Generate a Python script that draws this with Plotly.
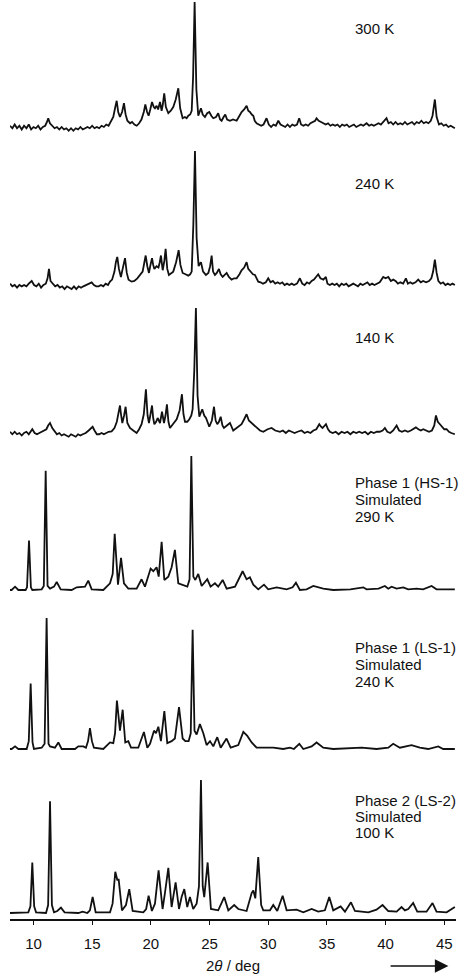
import plotly.graph_objects as go

# ---------------- data: (2theta / deg, relative intensity %) -------------
pat_300K = [(8.0,1),(8.2,-1),(8.4,2),(8.6,-1),(8.8,1),(9.0,-2),(9.2,1),(9.4,-1),(9.6,2),(9.8,-2),(10.0,0),(10.2,-1),(10.4,1),(10.6,-2),(10.8,0),(11.0,1),(11.15,4),(11.26,7),(11.4,3),(11.6,1),(11.8,-1),(12.0,0),(12.2,-2),(12.4,0),(12.6,-2),(12.8,-1),(13.0,-3),(13.2,-1),(13.4,-3),(13.6,-1),(13.8,-2),(14.0,0),(14.2,-2),(14.4,-1),(14.6,0),(14.8,-1),(15.0,1),(15.2,-1),(15.4,0),(15.6,-1),(15.8,1),(16.0,0),(16.2,2),(16.4,1),(16.6,4),(16.8,8),(16.95,15),(17.09,21),(17.22,12),(17.37,8),(17.55,12),(17.71,19),(17.85,10),(18.0,5),(18.23,3),(18.4,4),(18.6,2),(18.8,1),(19.0,3),(19.2,6),(19.4,12),(19.53,18),(19.68,12),(19.81,9),(19.95,14),(20.1,20),(20.25,16),(20.35,15),(20.49,17),(20.62,14),(20.78,20),(20.92,13),(21.02,18),(21.14,27),(21.28,16),(21.49,11),(21.7,13),(21.91,16),(22.12,22),(22.34,31),(22.5,15),(22.71,7),(22.9,8),(23.05,7),(23.19,9),(23.35,10),(23.48,13),(23.6,40),(23.73,100),(23.88,30),(24.04,9),(24.15,12),(24.27,15),(24.42,10),(24.61,8),(24.8,11),(24.98,12),(25.15,9),(25.32,7),(25.55,8),(25.74,11),(25.9,6),(26.03,5),(26.2,8),(26.34,10),(26.5,6),(26.74,5),(27.0,6),(27.31,5),(27.55,9),(27.73,12),(27.95,14),(28.16,17),(28.3,13),(28.44,12),(28.6,10),(28.73,9),(28.85,5),(29.01,3),(29.2,2),(29.4,1),(29.6,2),(29.86,7),(30.05,2),(30.25,0),(30.45,2),(30.65,1),(30.86,5),(31.05,2),(31.25,1),(31.45,0),(31.65,2),(31.85,0),(32.05,2),(32.25,1),(32.45,2),(32.64,7),(32.8,2),(33.0,1),(33.2,2),(33.4,1),(33.6,3),(33.8,4),(34.0,5),(34.12,7),(34.3,5),(34.5,4),(34.7,3),(34.9,2),(35.1,3),(35.3,1),(35.5,2),(35.7,1),(35.9,2),(36.1,0),(36.3,2),(36.5,1),(36.7,2),(36.9,0),(37.1,1),(37.3,2),(37.5,0),(37.7,1),(37.9,2),(38.1,1),(38.38,3),(38.6,1),(38.8,2),(39.0,1),(39.2,2),(39.4,3),(39.6,2),(39.8,4),(40.08,7),(40.25,3),(40.45,4),(40.65,2),(40.85,4),(41.05,2),(41.25,3),(41.45,2),(41.65,4),(41.85,2),(42.05,3),(42.25,4),(42.45,2),(42.65,4),(42.85,3),(43.05,5),(43.25,3),(43.45,4),(43.65,3),(43.85,5),(44.0,9),(44.2,22),(44.35,8),(44.55,2),(44.75,3),(44.95,1),(45.15,2),(45.35,0),(45.55,1),(45.75,0),(45.9,-1)]

pat_240K = [(8.0,1),(8.2,-1),(8.4,0),(8.6,-2),(8.8,0),(9.0,-1),(9.2,0),(9.4,-1),(9.6,1),(9.85,3),(10.05,0),(10.25,-1),(10.45,1),(10.65,-2),(10.85,0),(11.05,1),(11.2,5),(11.32,12),(11.45,3),(11.65,1),(11.85,-1),(12.05,0),(12.25,-2),(12.45,-1),(12.65,-3),(12.85,-1),(13.05,-2),(13.25,-3),(13.45,-1),(13.65,-3),(13.85,-1),(14.05,-2),(14.25,-1),(14.45,0),(14.7,1),(14.96,2),(15.15,0),(15.35,-1),(15.55,-1),(15.75,0),(15.95,-1),(16.15,1),(16.35,0),(16.52,2.5),(16.7,4),(16.9,10),(17.02,17),(17.14,21),(17.28,12),(17.45,6),(17.62,13),(17.8,20),(17.95,9),(18.1,4),(18.36,2.5),(18.6,3),(18.85,5),(19.07,7.5),(19.3,10),(19.45,17),(19.56,22),(19.7,14),(19.84,9),(19.97,15),(20.1,20),(20.2,15),(20.3,12),(20.49,14),(20.65,13),(20.76,17),(20.86,22),(21.01,11),(21.15,18),(21.26,27),(21.4,12),(21.54,7.5),(21.72,9),(21.91,10),(22.15,17),(22.37,26),(22.52,15),(22.71,9),(22.95,8),(23.19,7),(23.35,8),(23.48,10),(23.62,45),(23.76,100),(23.9,35),(24.07,14),(24.17,16),(24.27,17),(24.45,10),(24.69,7.5),(24.9,9),(25.05,14),(25.18,22),(25.3,10),(25.46,7.5),(25.62,9),(25.8,12),(25.95,8),(26.12,6),(26.3,8),(26.46,9),(26.65,6),(26.88,4),(27.1,5),(27.31,5),(27.55,8),(27.73,11),(27.95,13),(28.16,17),(28.3,12),(28.5,10),(28.7,8),(28.87,7.5),(29.0,5),(29.15,2.5),(29.35,2),(29.55,1),(29.8,2),(30.0,5),(30.2,2),(30.4,3),(30.6,1),(30.8,2),(31.0,1),(31.2,2),(31.4,0),(31.6,1),(31.8,0),(32.0,1),(32.2,0),(32.45,1),(32.7,5),(32.9,1),(33.1,0),(33.3,2),(33.5,1),(33.7,3),(33.9,4),(34.1,6),(34.26,8),(34.45,5),(34.7,4),(34.91,6),(35.05,1),(35.25,0),(35.45,1),(35.65,0),(35.85,1),(36.05,-1),(36.25,1),(36.45,0),(36.65,1),(36.85,-1),(37.05,0),(37.25,1),(37.45,0),(37.65,-1),(37.85,1),(38.05,0),(38.25,1),(38.45,2),(38.65,0),(38.85,1),(39.05,0),(39.25,1),(39.5,2),(39.8,6),(40.0,5),(40.23,6),(40.45,3),(40.65,4),(40.85,3),(41.05,1),(41.25,2),(41.5,1),(41.73,5),(41.9,1),(42.1,2),(42.3,1),(42.55,2),(42.78,4),(43.0,2),(43.2,3),(43.45,2),(43.7,3),(43.9,5),(44.05,10),(44.2,19),(44.35,9),(44.5,3),(44.7,1),(44.9,2),(45.1,0),(45.3,1),(45.5,0),(45.7,1),(45.9,0)]

pat_140K = [(8.0,1),(8.2,-1),(8.4,1),(8.6,-1),(8.8,0),(9.0,-2),(9.2,0),(9.4,1),(9.6,-1),(9.9,3),(10.1,0),(10.3,-1),(10.5,0),(10.7,1),(10.9,2),(11.1,3),(11.25,6),(11.41,8),(11.6,4),(11.8,1),(12.0,-1),(12.2,0),(12.4,-2),(12.6,-1),(12.8,-2),(13.0,-3),(13.2,-1),(13.4,-2),(13.6,-3),(13.8,-1),(14.0,-2),(14.2,-1),(14.45,0),(14.7,2),(14.9,4),(15.04,5),(15.2,2),(15.4,-1),(15.6,-1),(15.8,0),(16.0,-1),(16.2,0),(16.4,1),(16.66,1.3),(16.9,4),(17.1,9),(17.25,16),(17.37,22),(17.47,14),(17.57,8),(17.72,14),(17.85,21),(18.0,8),(18.22,4),(18.5,2),(18.79,0),(19.0,3),(19.21,7),(19.4,15),(19.58,35),(19.72,14),(19.84,8),(19.97,15),(20.1,22),(20.2,12),(20.3,7),(20.45,9),(20.58,12),(20.78,8),(20.95,17),(21.12,8),(21.25,14),(21.37,23),(21.5,9),(21.63,4),(21.9,7),(22.2,11),(22.45,18),(22.65,31),(22.78,15),(22.91,9),(23.1,9),(23.28,11),(23.45,14),(23.56,19),(23.7,50),(23.84,100),(23.98,30),(24.13,13),(24.25,16),(24.38,19),(24.55,14),(24.7,12),(24.98,5),(25.2,10),(25.38,21),(25.52,10),(25.66,7),(25.8,9),(25.95,13),(26.1,6),(26.23,4),(26.5,6),(26.74,8),(27.02,2),(27.35,4),(27.73,7),(27.95,11),(28.16,15),(28.35,10),(28.59,8),(28.8,6),(29.01,4),(29.3,2),(29.58,1),(29.95,3),(30.29,4),(30.6,2),(31.0,1),(31.25,2),(31.5,0),(31.75,2),(32.0,1),(32.25,0),(32.5,1),(32.84,2),(33.1,0),(33.35,1),(33.6,0),(33.85,2),(34.1,3),(34.35,7),(34.5,5),(34.63,4),(34.92,7),(35.1,3),(35.26,1),(35.5,0),(35.75,1),(36.0,-1),(36.25,1),(36.5,0),(36.75,1),(37.0,-1),(37.25,1),(37.5,0),(37.75,1),(38.0,0),(38.25,1),(38.5,-1),(38.75,1),(39.0,0),(39.25,1),(39.5,1),(39.75,2),(39.94,4),(40.15,1),(40.4,0),(40.65,2),(40.94,6),(41.15,2),(41.4,1),(41.65,2),(41.9,1),(42.15,2),(42.35,3),(42.58,4.5),(42.8,3),(43.0,2),(43.21,3),(43.45,2),(43.7,1),(43.95,2),(44.15,6),(44.29,14),(44.45,9),(44.63,7),(44.85,5),(45.0,3),(45.2,3),(45.4,1),(45.6,0),(45.9,-1)]

pat_HS1 = [(8.0,0),(8.14,0),(8.43,2.5),(8.71,0),(9.33,0),(9.45,2),(9.62,37),(9.78,2),(9.9,0),(10.7,0.5),(10.88,3),(11.04,89),(11.2,3),(11.41,1),(11.75,2.5),(11.98,6),(12.32,0.5),(12.83,0),(13.25,0),(13.68,2),(14.1,2),(14.39,2.5),(14.67,7),(14.96,0.5),(15.95,0),(16.52,5),(16.75,12),(16.92,42),(17.2,4),(17.46,24),(17.71,5),(18.08,1),(18.79,1),(19.21,8),(19.5,2.5),(19.98,16),(20.21,14),(20.49,17),(20.67,10),(20.92,36),(21.15,7.5),(21.49,10),(21.77,17),(22.05,30),(22.34,5),(22.71,4),(23.11,2.5),(23.3,8),(23.45,100),(23.62,10),(23.79,7.5),(24.04,12),(24.33,3),(24.81,8),(25.09,2.5),(25.46,5),(25.74,2.5),(26.12,7.5),(26.46,1),(27.17,2.5),(27.45,7.5),(27.82,14),(28.16,8),(28.44,9.5),(28.73,4),(29.15,0.5),(29.64,4),(30.0,0.5),(30.72,2),(31.14,1),(31.57,0.5),(32.08,2),(32.36,5.5),(32.7,0),(33.27,0.5),(33.84,3),(34.69,1),(35.54,0),(37.0,0.5),(38.1,2),(38.38,0.5),(39.4,1),(39.94,3),(40.23,1),(40.51,2.5),(40.94,1),(41.51,2),(41.93,0.5),(42.64,1),(43.2,0.5),(43.92,3),(44.34,0.5),(45.0,0.5),(45.9,0.5)]

pat_LS1 = [(8.0,0),(8.14,0),(8.43,2),(8.71,0),(9.42,0),(9.6,6),(9.76,50),(9.92,5),(10.04,0),(10.7,1),(10.95,4),(11.12,100),(11.28,4),(11.41,2),(11.83,1),(12.12,5),(12.4,0),(12.97,0),(13.54,0),(13.82,2),(14.25,2),(14.47,1),(14.65,6),(14.81,16),(14.98,6),(15.15,1),(15.95,0),(16.52,5),(16.8,4.5),(16.95,12),(17.11,37),(17.37,14),(17.6,30),(17.82,5),(18.08,6),(18.31,1),(18.93,1),(19.41,13),(19.7,1),(19.93,4),(20.27,14),(20.44,12),(20.64,17),(20.86,6),(21.15,29),(21.4,4.5),(21.77,6),(22.05,8),(22.4,32),(22.71,8),(22.94,6),(23.22,6),(23.4,12),(23.56,91),(23.72,14),(23.9,11),(24.18,19),(24.47,12),(24.75,3),(25.04,6),(25.32,2),(25.66,9),(25.95,1),(26.45,8),(26.8,1),(27.45,3),(27.88,13),(28.22,10),(28.59,5),(29.01,1),(29.86,1),(30.43,1),(31.28,0),(31.85,1),(32.19,0),(32.65,4),(32.99,0),(33.7,2),(34.12,5),(34.69,1),(35.54,0),(37.96,1),(39.23,0),(40.23,1),(40.65,4),(41.22,1),(42.21,3),(42.92,1),(43.63,0),(44.49,2),(44.91,0),(45.9,0)]

pat_LS2 = [(8.0,0),(9.56,0.5),(9.74,5),(9.9,38),(10.06,5),(10.22,0.5),(11.07,0),(11.25,6),(11.41,84),(11.57,6),(11.75,0.5),(12.03,1.5),(12.34,4),(12.65,0.5),(13.82,0),(14.19,1),(14.59,0),(14.81,2),(15.04,12),(15.3,0.5),(16.52,0.5),(16.74,7),(16.97,31),(17.14,25),(17.26,25),(17.54,2),(17.88,6),(18.16,18),(18.45,1.5),(19.36,0.5),(19.6,3),(19.81,13),(20.09,1.5),(20.35,7),(20.66,32),(21.0,3),(21.2,15),(21.49,34),(21.77,4.5),(22.11,23),(22.4,3),(22.62,12),(22.85,18),(23.1,4.5),(23.33,12),(23.61,3),(23.9,7),(24.1,20),(24.27,100),(24.42,20),(24.55,12),(24.84,38),(25.12,3),(25.46,2.5),(25.74,2),(26.25,12),(26.6,2),(27.1,6),(27.45,3),(28.16,1.5),(28.59,15),(28.73,17),(28.9,11),(29.15,42),(29.4,6),(29.58,2),(30.15,2),(30.43,6),(30.77,1.5),(31.23,13),(31.57,2),(32.42,2.5),(32.99,0.5),(33.7,3),(34.26,1),(34.83,2),(35.2,12),(35.54,2),(36.17,5),(36.54,1),(37.05,8),(37.39,1.5),(38.53,0.5),(39.23,2.5),(39.74,6),(40.23,1.5),(40.94,1),(41.36,4.5),(41.65,2),(41.93,3),(42.35,7.5),(42.7,1),(43.49,1),(44.0,7.5),(44.34,1),(45.2,0.5),(45.9,4.5)]

patterns = [pat_300K, pat_240K, pat_140K, pat_HS1, pat_LS1, pat_LS2]
labels = [["300 K"], ["240 K"], ["140 K"],
          ["Phase 1 (HS-1)", "Simulated", "290 K"],
          ["Phase 1 (LS-1)", "Simulated", "240 K"],
          ["Phase 2 (LS-2)", "Simulated", "100 K"]]
tick_vals = [10, 15, 20, 25, 30, 35, 40, 45]
x_range = [8, 46]

# ---------------- layout / style (stacking offsets in px-like units of the y-axis) ----------------
PLOT_H = 919
offsets = [792, 634, 486, 329, 170, 6]     # baseline height of each pattern
scales = [1.25, 1.34, 1.25, 1.34, 1.31, 1.33]  # units per % intensity
label_rows = [[891], [736], [582], [437, 420, 403], [272, 255, 238], [119, 103, 87]]
FONT = "Liberation Sans, Arial, sans-serif"
AX_TITLE_Y = -(966 - PLOT_H) / PLOT_H

fig = go.Figure()
for pat, off, sc in zip(patterns, offsets, scales):
    xs = [p[0] for p in pat]
    ys = [off + p[1] * sc for p in pat]
    fig.add_trace(go.Scatter(x=xs, y=ys, mode="lines",
                             line=dict(color="#111111", width=1.8),
                             showlegend=False, hoverinfo="skip"))

annotations = []
for lines, rows in zip(labels, label_rows):
    for txt, yy in zip(lines, rows):
        annotations.append(dict(x=37.19, y=yy, xref="x", yref="y", text=txt,
                                showarrow=False, xanchor="left", yanchor="middle",
                                font=dict(family=FONT, size=15, color="#111111")))

annotations.append(dict(x=27, y=AX_TITLE_Y, xref="x", yref="paper",
                        text="2<i>θ</i> / deg", showarrow=False,
                        xanchor="center", yanchor="middle",
                        font=dict(family=FONT, size=15, color="#111111")))
annotations.append(dict(x=45.35, y=AX_TITLE_Y, xref="x", yref="paper",
                        ax=40.3, ay=0, axref="x", ayref="pixel",
                        text="", showarrow=True, arrowhead=2, arrowsize=1.8,
                        arrowwidth=1.5, arrowcolor="#111111"))

fig.update_layout(
    width=464, height=978,
    margin=dict(l=10, r=8, t=0, b=978 - PLOT_H),
    paper_bgcolor="white", plot_bgcolor="white",
    showlegend=False,
    annotations=annotations,
    xaxis=dict(range=x_range, tickvals=tick_vals, ticktext=[str(t) for t in tick_vals],
               showline=True, linecolor="#111111", linewidth=1.5,
               ticks="outside", ticklen=4, tickwidth=1, tickcolor="#111111",
               showgrid=False, zeroline=False, ticklabelstandoff=6,
               tickfont=dict(family=FONT, size=15, color="#111111")),
    yaxis=dict(range=[0, PLOT_H], visible=False, showgrid=False, zeroline=False),
)

fig.write_html("out.html")
